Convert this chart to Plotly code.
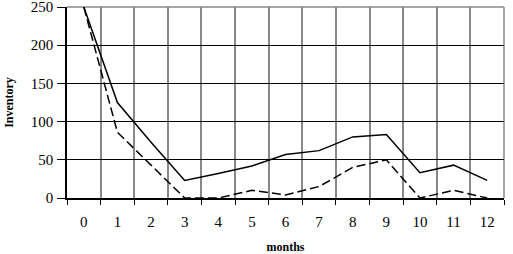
import plotly.graph_objects as go

months = ["0", "1", "2", "3", "4", "5", "6", "7", "8", "9", "10", "11", "12"]
solid_vals = [250, 125, 73, 23, 32, 42, 57, 62, 80, 83, 33, 43, 23]
dashed_vals = [250, 86, 43, 0, 0, 10, 4, 15, 40, 50, 0, 10, 0]
y_ticks = [0, 50, 100, 150, 200, 250]

fig = go.Figure()
fig.add_trace(go.Scatter(x=months, y=solid_vals, mode="lines", cliponaxis=False,
                         line=dict(color="black", width=1.5), showlegend=False))
fig.add_trace(go.Scatter(x=months, y=dashed_vals, mode="lines", cliponaxis=False,
                         line=dict(color="black", width=1.5, dash="9px,4px"), showlegend=False))

font_family = "'Times New Roman', 'Liberation Serif', serif"
tick_font = dict(family=font_family, size=15, color="black")
fig.update_layout(
    width=513, height=254,
    margin=dict(l=67, r=9, t=7, b=56),
    paper_bgcolor="white", plot_bgcolor="white",
    font=dict(family=font_family, color="black", size=15),
    xaxis=dict(type="category", range=[-0.5, 12.5], tickson="boundaries", automargin=False,
               showgrid=True, gridcolor="#888888", gridwidth=1.5,
               showline=True, linecolor="black", linewidth=1.5,
               ticks="outside", ticklen=5, tickcolor="black",
               ticklabelstandoff=9, tickfont=tick_font, ticklabeloverflow="allow",
               title=dict(text="<b>months</b>", font=dict(size=12, family=font_family), standoff=16)),
    yaxis=dict(range=[0, 250], tickvals=y_ticks, showgrid=True, gridcolor="black", gridwidth=1,
               automargin=False, zeroline=False, showline=True, linecolor="black", linewidth=1.5,
               ticks="outside", ticklen=8, tickcolor="black", ticklabelstandoff=1,
               tickfont=tick_font, ticklabeloverflow="allow",
               title=dict(text="<b>Inventory</b>", font=dict(size=12, family=font_family), standoff=15)),
    shapes=[dict(type="line", xref="paper", yref="paper", x0=0, x1=1, y0=1, y1=1,
                 line=dict(color="#888888", width=1.5), layer="below"),
            dict(type="line", xref="paper", yref="paper", x0=1, x1=1, y0=0, y1=1,
                 line=dict(color="#888888", width=1.5), layer="below")],
)
fig.write_html("out.html")
